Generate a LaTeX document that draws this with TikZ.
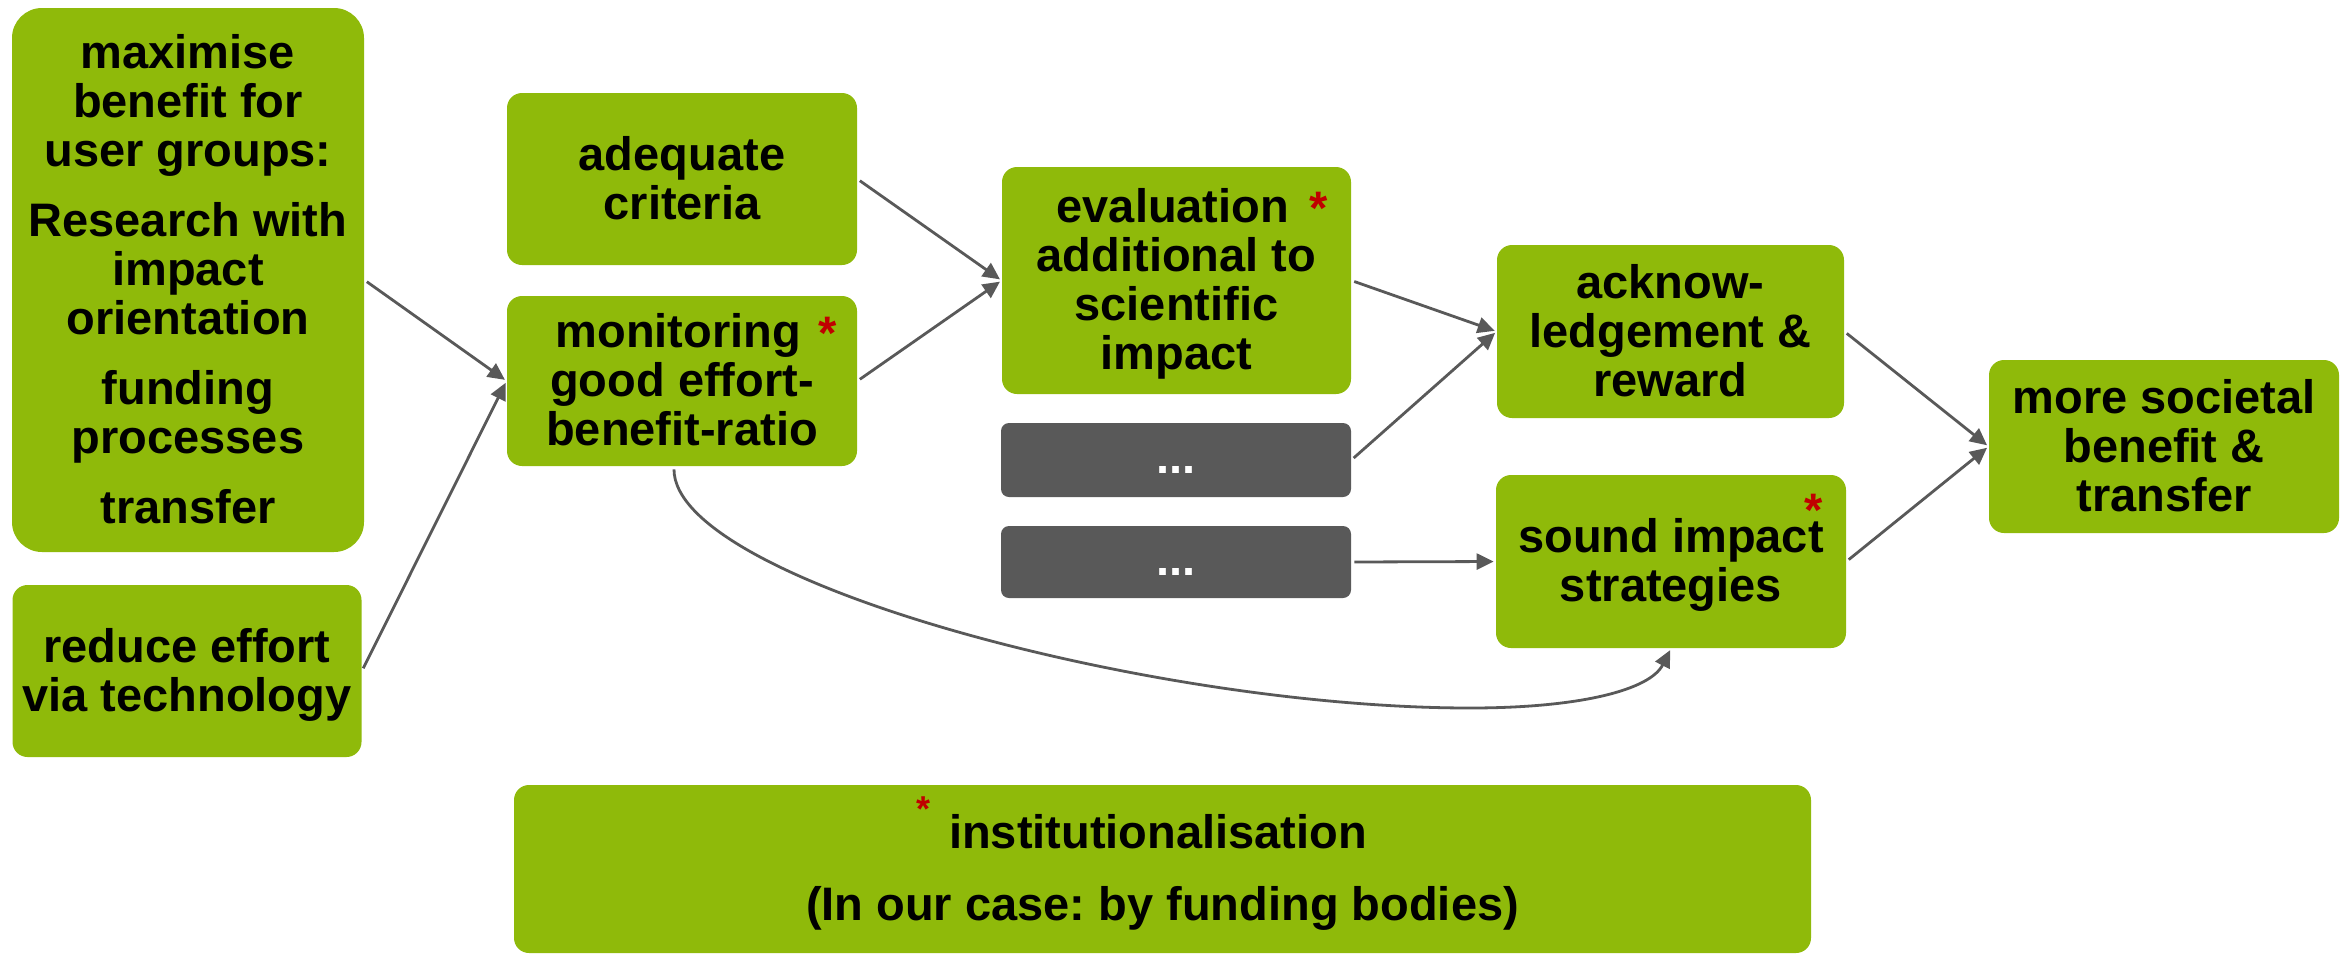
\documentclass[tikz,border=0pt]{standalone}
\usepackage{fontspec}
\setmainfont{Liberation Sans}
\usetikzlibrary{arrows.meta}
\definecolor{boxgreen}{HTML}{8FBA0A}
\definecolor{boxgrey}{HTML}{595959}
\definecolor{arrowgrey}{HTML}{595959}
\definecolor{astred}{HTML}{C00000}
\newcommand\myast{\textcolor{astred}{\raisebox{-1pt}[0pt][0pt]{*}}}
\newcommand\tstrut{\rule{0pt}{23pt}}
\frenchspacing
\begin{document}
\begin{tikzpicture}[x=0.5pt,y=-0.5pt,
  gbox/.style={fill=boxgreen, rounded corners=7.5pt, inner sep=0pt, align=center,
    font=\fontsize{23.5}{24.5}\selectfont\bfseries},
  dbox/.style={fill=boxgrey, rounded corners=4pt, inner sep=0pt, text=white,
    text height=13pt, text depth=0pt,
    font=\fontsize{23.5}{24.5}\selectfont\bfseries},
  conn/.style={draw=arrowgrey, line width=1.4pt, -{Triangle[length=8.5pt,width=8pt]},
    shorten >=1pt, shorten <=1.5pt}
]
\useasboundingbox (0,0) rectangle (2351,954);

\node[gbox, rounded corners=15pt, minimum width=176pt, minimum height=272pt] (maxi) at (188,280)
  {\tstrut maximise\\benefit for\\user groups:\\[10.5pt]Research with\\impact\\orientation\\[10.5pt]funding\\processes\\[10.5pt]transfer\strut};
\node[gbox, minimum width=174.5pt, minimum height=86pt] (reduce) at (187,671)
  {\tstrut reduce effort\\via technology\strut};
\node[gbox, minimum width=175pt, minimum height=86pt] (adequate) at (682,179)
  {\tstrut adequate\\criteria\strut};
\node[gbox, minimum width=175pt, minimum height=85pt] (monitor) at (682,381)
  {\tstrut\hspace*{14pt}monitoring\hspace{2pt} \myast\\good effort-\\benefit-ratio\strut};
\node[gbox, minimum width=174.5pt, minimum height=113.5pt] (eval) at (1176.5,280.5)
  {\tstrut\hspace*{15.5pt}evaluation\hspace{3.5pt} \myast\\additional to\\scientific\\impact\strut};
\node[dbox, minimum width=175pt, minimum height=37pt] (dotsA) at (1176,460) {...};
\node[dbox, minimum width=175pt, minimum height=36pt] (dotsB) at (1176,562) {...};
\node[gbox, minimum width=173.5pt, minimum height=86.5pt] (ack) at (1670.5,331.5)
  {\tstrut acknow-\\ledgement \&\\reward\strut};
\node[gbox, minimum width=175pt, minimum height=86.5pt] (sound) at (1671,561.5)
  {\tstrut sound impact\\strategies\strut};
\node[text=astred, inner sep=0pt, font=\fontsize{23.5}{24.5}\selectfont\bfseries] (soundast) at (1814,510) {*};
\node[gbox, minimum width=175pt, minimum height=86.5pt] (more) at (2164,446.5)
  {\tstrut more societal\\benefit \&\\transfer\strut};
\node[gbox, minimum width=648.5pt, minimum height=84pt] (inst) at (1162.5,869)
  {\tstrut{\color{astred}\raisebox{13.5pt}[0pt][0pt]{\fontsize{18}{18}\selectfont *}}\hspace{3pt} institutionalisation\hspace*{21pt}\\[11.5pt](In our case: by funding bodies)\strut};

\coordinate (curvelow) at (1470,708);

\draw[conn] (maxi.east) -- (monitor.west);
\draw[conn] (reduce.east) -- (monitor.west);
\draw[conn] (adequate.east) -- (eval.west);
\draw[conn] (monitor.east) -- (eval.west);
\draw[conn] (eval.east) -- (ack.west);
\draw[conn] (dotsA.east) -- (ack.west);
\draw[conn] (dotsB.east) -- (sound.west);
\draw[conn] (ack.east) -- (more.west);
\draw[conn] (sound.east) -- (more.west);
\draw[conn] ([xshift=-4pt]monitor.south) .. controls (674,580) and (1150,708) .. (curvelow)
  .. controls (1580,708) and (1650,690) .. (sound.south);
\end{tikzpicture}
\end{document}
